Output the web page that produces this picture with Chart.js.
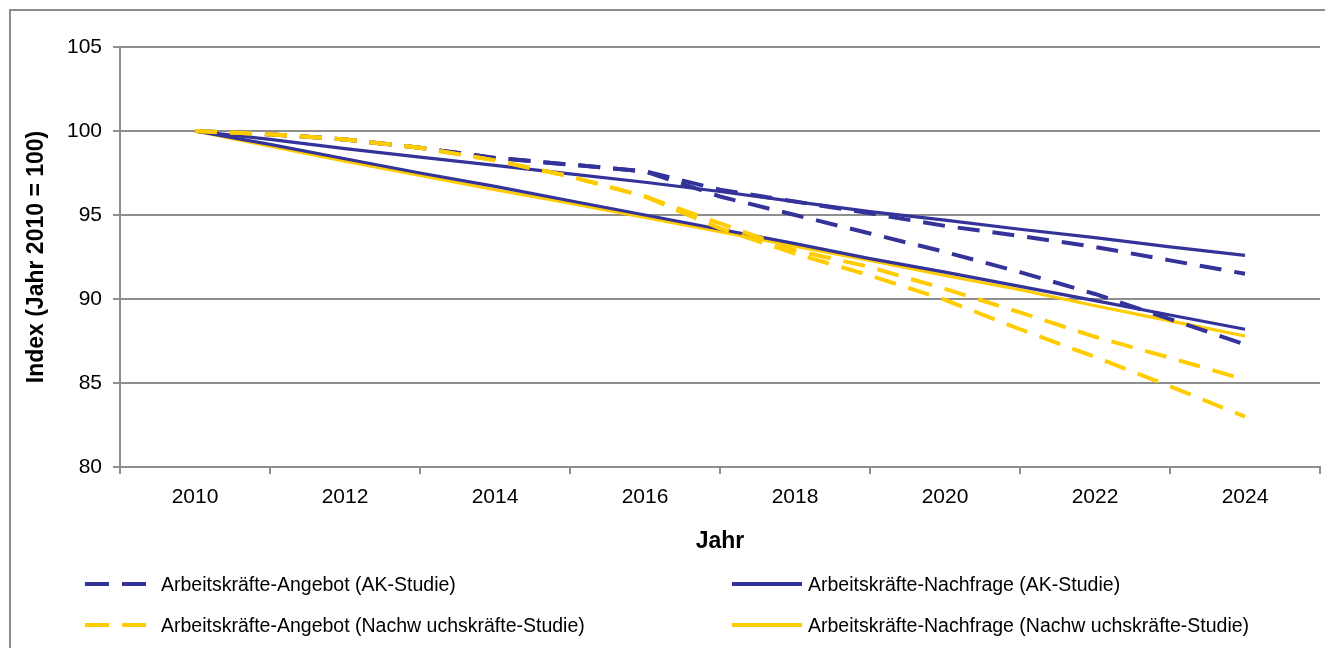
<!DOCTYPE html>
<html>
<head>
<meta charset="utf-8">
<script src="https://cdn.jsdelivr.net/npm/chart.js@4"></script>
<style>
html, body { margin: 0; padding: 0; background: #fff; overflow: hidden; }
#wrap { position: relative; width: 1325px; height: 648px; overflow: hidden; }
#frame { position: absolute; left: 9px; top: 9px; width: 1400px; height: 700px; border: 2px solid #8c8c8c; box-sizing: border-box; }
#chart { position: absolute; left: 0; top: 0; }
#legend { position: absolute; left: 0; top: 0; font-family: "Liberation Sans", Arial, sans-serif; font-size: 19.5px; color: #000; }
.item { position: absolute; display: flex; align-items: center; height: 30px; white-space: nowrap; }
.item svg { display: block; }
</style>
</head>
<body>
<div id="wrap">
  <div id="frame"></div>
  <canvas id="chart" width="1325" height="648"></canvas>
  <div id="legend"></div>
</div>
<script>
// x axis: yearly data, labels every second year
const years = [2010, 2011, 2012, 2013, 2014, 2015, 2016, 2017, 2018, 2019, 2020, 2021, 2022, 2023, 2024];
const xLabels = [2010, 2012, 2014, 2016, 2018, 2020, 2022, 2024];
const yTicks = [80, 85, 90, 95, 100, 105];

// Index values (2010 = 100)
const akAngebotA = [100, 99.8, 99.5, 99.0, 98.4, 98.0, 97.6, 96.5, 95.8, 95.1, 94.35, 93.75, 93.1, 92.3, 91.5];
const akAngebotB = [100, 99.8, 99.5, 99.0, 98.4, 98.0, 97.6, 96.1, 95.0, 93.9, 92.8, 91.6, 90.3, 88.8, 87.3];
const akNachfrageA = [100, 99.5, 98.95, 98.45, 97.95, 97.45, 96.95, 96.4, 95.8, 95.2, 94.7, 94.15, 93.65, 93.1, 92.6];
const akNachfrageB = [100, 99.2, 98.35, 97.5, 96.7, 95.85, 95.0, 94.15, 93.3, 92.4, 91.6, 90.75, 89.9, 89.05, 88.2];
const nwAngebotA = [100, 99.8, 99.5, 99.0, 98.25, 97.3, 96.1, 94.5, 92.9, 91.9, 90.6, 89.2, 87.75, 86.5, 85.2];
const nwAngebotB = [100, 99.8, 99.5, 99.0, 98.25, 97.3, 96.1, 94.2, 92.7, 91.4, 89.95, 88.2, 86.55, 84.8, 83.0];
const nwNachfrage = [100, 99.1, 98.2, 97.35, 96.5, 95.7, 94.85, 94.0, 93.15, 92.3, 91.4, 90.55, 89.6, 88.7, 87.8];

const legendLabels = [
  'Arbeitskräfte-Angebot (AK-Studie)',
  'Arbeitskräfte-Nachfrage (AK-Studie)',
  'Arbeitskräfte-Angebot (Nachw uchskräfte-Studie)',
  'Arbeitskräfte-Nachfrage (Nachw uchskräfte-Studie)'
];

const blue = '#333399';
const yellow = '#ffcc00';
const gridColor = '#8e8e8e';
const dash = [22, 13];

function series(values, label, color, dashed) {
  return {
    label: label,
    data: values.map((v, i) => ({ x: years[i], y: v })),
    borderColor: color,
    backgroundColor: color,
    borderWidth: dashed ? 4 : 3.2,
    borderDash: dashed ? dash : [],
    pointRadius: 0,
    tension: 0,
    fill: false
  };
}

// first dataset is drawn on top
const datasets = [
  series(nwAngebotA, legendLabels[2], yellow, true),
  series(nwAngebotB, legendLabels[2], yellow, true),
  series(akAngebotA, legendLabels[0], blue, true),
  series(akAngebotB, legendLabels[0], blue, true),
  series(akNachfrageA, legendLabels[1], blue, false),
  series(akNachfrageB, legendLabels[1], blue, false),
  series(nwNachfrage, legendLabels[3], yellow, false)
];

Chart.defaults.font.family = '"Liberation Sans", Arial, sans-serif';
Chart.defaults.color = '#000';

const ctx = document.getElementById('chart').getContext('2d');
const chart = new Chart(ctx, {
  type: 'line',
  data: { datasets: datasets },
  options: {
    responsive: false,
    animation: false,
    layout: { padding: { top: 47, right: 5, bottom: 88, left: 0 } },
    plugins: { legend: { display: false }, tooltip: { enabled: false } },
    scales: {
      x: {
        type: 'linear',
        min: 2009,
        max: 2025,
        afterBuildTicks: s => { s.ticks = xLabels.map(v => ({ value: v })); },
        afterFit: s => { s.height = 93; },
        grid: { offset: true, drawOnChartArea: false, tickLength: 7, color: gridColor, lineWidth: 2 },
        border: { color: gridColor, width: 2 },
        ticks: { padding: 11, font: { size: 21 }, color: '#000', maxRotation: 0, autoSkip: false, callback: v => String(v) },
        title: { display: true, text: 'Jahr', font: { size: 23, weight: 'bold' }, color: '#000', padding: { top: 0, bottom: 5 } }
      },
      y: {
        min: 80,
        max: 105,
        afterBuildTicks: s => { s.ticks = yTicks.map(v => ({ value: v })); },
        afterFit: s => { s.width = 120; },
        grid: { color: gridColor, lineWidth: 2, tickLength: 7 },
        border: { color: gridColor, width: 2 },
        ticks: { padding: 11, font: { size: 21 }, color: '#000' },
        title: { display: true, text: 'Index (Jahr 2010 = 100)', font: { size: 23, weight: 'bold' }, color: '#000', padding: { top: 23, bottom: 0 } }
      }
    }
  }
});

// HTML legend, two columns
const legendPos = [
  { left: 85, top: 569, w: 62, gap: 14 },
  { left: 732, top: 569, w: 70, gap: 6 },
  { left: 85, top: 610, w: 62, gap: 14 },
  { left: 732, top: 610, w: 70, gap: 6 }
];
const legendEl = document.getElementById('legend');
legendLabels.forEach((label, i) => {
  const ds = datasets.find(d => d.label === label);
  const p = legendPos[i];
  const item = document.createElement('div');
  item.className = 'item';
  item.style.left = p.left + 'px';
  item.style.top = p.top + 'px';
  const dashAttr = ds.borderDash.length ? ' stroke-dasharray="24 13"' : '';
  item.innerHTML = '<svg width="' + p.w + '" height="8"><line x1="0" y1="4" x2="' + p.w + '" y2="4" stroke="' + ds.borderColor + '" stroke-width="4"' + dashAttr + '/></svg>' +
    '<span style="margin-left:' + p.gap + 'px">' + label + '</span>';
  legendEl.appendChild(item);
});
</script>
</body>
</html>
